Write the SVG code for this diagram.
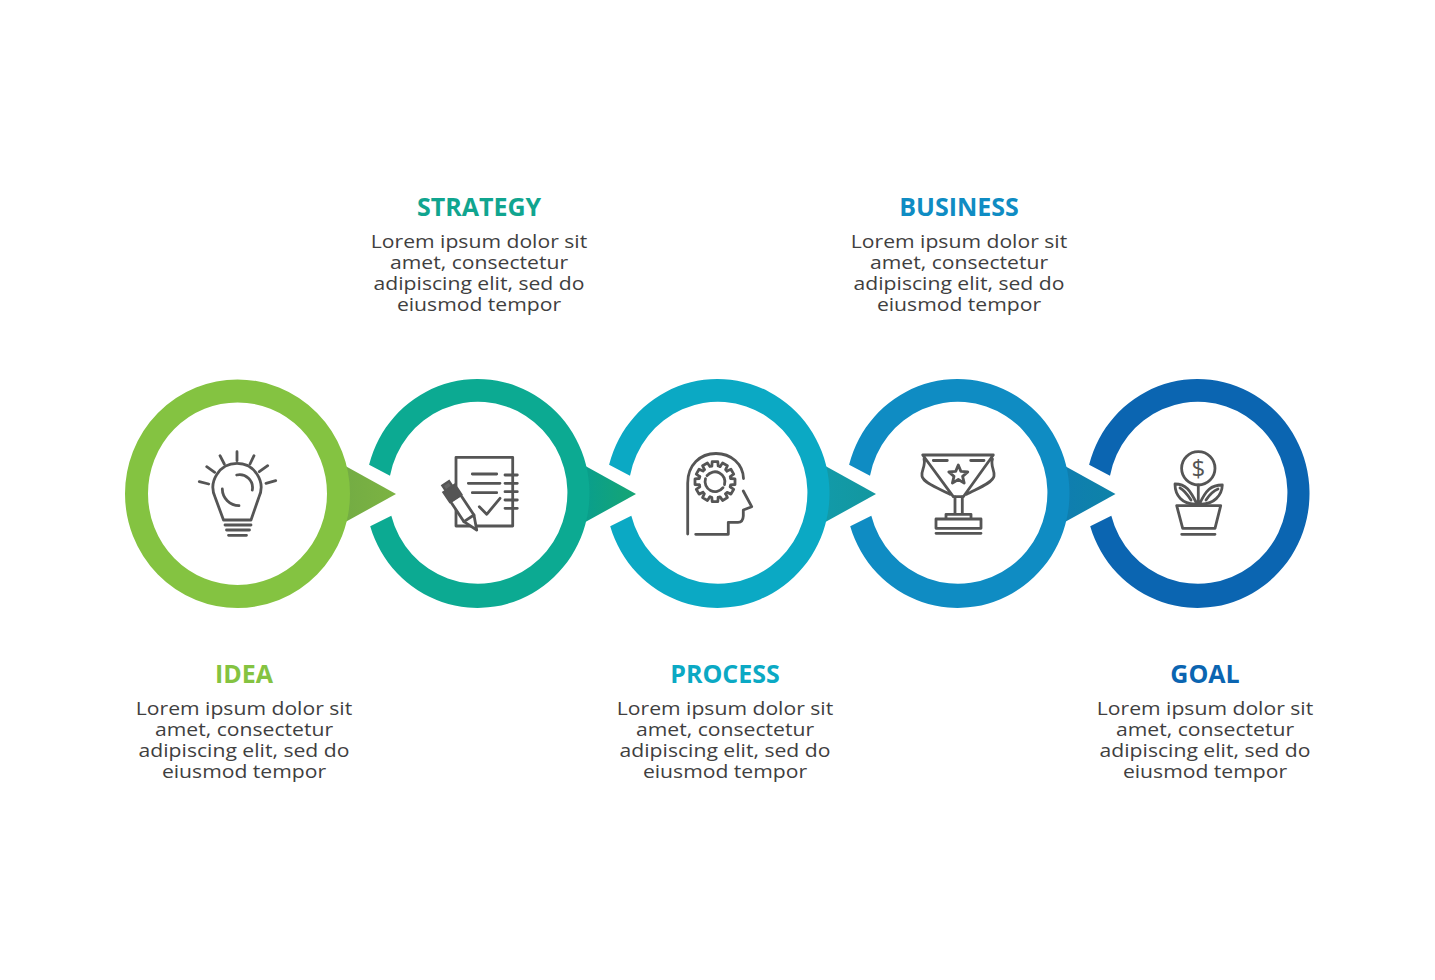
<svg xmlns="http://www.w3.org/2000/svg" xmlns:xlink="http://www.w3.org/1999/xlink" width="1435" height="980" viewBox="0 0 1435 980">
<style>
.t{font-family:"Open Sans","Liberation Sans",sans-serif;font-weight:700;font-size:25px;text-anchor:middle}
.b{font-family:"Open Sans","Liberation Sans",sans-serif;font-size:18px;fill:#3f3f3f;text-anchor:middle}
.i{fill:none;stroke:#555;stroke-width:2.8;stroke-linecap:round;stroke-linejoin:round}
.iw{fill:#fff;stroke:#555;stroke-width:2.8;stroke-linejoin:round}
</style>
<defs>
<path id="ring" d="M-108.4,-29A112,114.5 0 1 1 -107.3,32.5L-86.2,22A89.5,91 0 1 0 -87.5,-18Z"/>
<polygon id="arr" points="-61,-33.8 0,0 -61,33.8"/>
<path id="tooth" class="i" d="M-3.2,-15.7L-2.8,-20H2.8L3.2,-15.7A16,16 0 0 1 5.08,-15.2"/>
<linearGradient id="a1" x1="0" x2="1" y1="0" y2="0"><stop offset="0" stop-color="#72ab44"/><stop offset="1" stop-color="#7cb342"/></linearGradient>
<linearGradient id="a2" x1="0" x2="1" y1="0" y2="0"><stop offset="0.2" stop-color="#0a9f8b"/><stop offset="1" stop-color="#16a574"/></linearGradient>
<linearGradient id="a3" x1="0" x2="1" y1="0" y2="0"><stop offset="0.2" stop-color="#129aa8"/><stop offset="1" stop-color="#13979f"/></linearGradient>
<linearGradient id="a4" x1="0" x2="1" y1="0" y2="0"><stop offset="0.2" stop-color="#0f7eaf"/><stop offset="1" stop-color="#0e83a8"/></linearGradient>
</defs>
<rect width="1435" height="980" fill="#fff"/>
<g id="connectors">
<use href="#arr" x="396" y="494" fill="url(#a1)"/>
<use href="#arr" x="636" y="494" fill="url(#a2)"/>
<use href="#arr" x="876" y="494" fill="url(#a3)"/>
<use href="#arr" x="1115.5" y="494" fill="url(#a4)"/>
</g>
<g id="node-idea">
<ellipse cx="237.5" cy="493.7" rx="101" ry="102.8" fill="none" stroke="#84c341" stroke-width="23"/>
<path class="i" d="M237,451.7V460.7M220,455.7L224.3,464M254,455.7L250,464M206.7,466.7L214.7,472.3M267.7,465.7L259.3,471.7M199.3,481.7L208.7,484M275.7,480.7L266,483.3"/>
<path class="i" d="M223.5,520L215.2,497.5A24,24 0 1 1 258.8,497.5L251,520Z"/>
<path class="i" d="M225,525H251M226.5,530H249.5M228.5,535.3H246.5M236.7,475A13,13 0 0 1 252.3,490M222.3,489A17,17 0 0 0 239,505.7"/>
<text class="t" x="244" y="682.5" fill="#84c341">IDEA</text>
<g transform="translate(244,0) scale(1.175,1)">
<text class="b" x="0" y="715">Lorem ipsum dolor sit</text>
<text class="b" x="0" y="736">amet, consectetur</text>
<text class="b" x="0" y="757">adipiscing elit, sed do</text>
<text class="b" x="0" y="778">eiusmod tempor</text>
</g>
</g>
<g id="node-strategy">
<use href="#ring" x="477.5" y="493.7" fill="#0caa92"/>
<path class="i" d="M456,486V457.3H512.7V526H456V510"/>
<path class="i" d="M505,475H517.3M505,483.3H517.3M505,491.7H517.3M505,500H517.3M505,508.3H517.3M472.3,474H496.7M468.3,483.3H500M472.3,492.7H496.7M479.3,506.7L486.7,514.3L500,498.3"/>
<g transform="translate(476.7,530) rotate(-33.6)">
<path class="iw" d="M0,0L-6,-14V-38H6V-14Z"/>
<path d="M-7,-38H7V-50H-7Z" fill="#555" stroke="#555" stroke-width="2"/>
<path d="M-4,-50H4V-56H-4Z" fill="#666" stroke="#555" stroke-width="2.4"/>
<path class="i" d="M-6,-14L6,-14"/>
</g>
<text class="t" x="479" y="215.5" fill="#10a58f">STRATEGY</text>
<g transform="translate(479,0) scale(1.175,1)">
<text class="b" x="0" y="248">Lorem ipsum dolor sit</text>
<text class="b" x="0" y="269">amet, consectetur</text>
<text class="b" x="0" y="290">adipiscing elit, sed do</text>
<text class="b" x="0" y="311">eiusmod tempor</text>
</g>
</g>
<g id="node-process">
<use href="#ring" x="717.5" y="493.7" fill="#0ba9c4"/>
<path class="i" d="M687.7,534V483C687.7,465 700,453.5 716,453.5C731,453.5 743,464 743.5,478.5M743.3,491L751.7,506.7L743.3,510V516Q743,522.3 738,522.3H728.3V534.3H695.7"/>
<g transform="translate(715,481.7)">
<use href="#tooth"/><use href="#tooth" transform="rotate(30)"/><use href="#tooth" transform="rotate(60)"/><use href="#tooth" transform="rotate(90)"/><use href="#tooth" transform="rotate(120)"/><use href="#tooth" transform="rotate(150)"/><use href="#tooth" transform="rotate(180)"/><use href="#tooth" transform="rotate(210)"/><use href="#tooth" transform="rotate(240)"/><use href="#tooth" transform="rotate(270)"/><use href="#tooth" transform="rotate(300)"/><use href="#tooth" transform="rotate(330)"/>
<path class="i" d="M-8,-6A10,10 0 0 1 9.5,3M8,6A10,10 0 0 1 -9.5,-3"/>
</g>
<text class="t" x="725" y="682.5" fill="#0ba9c4">PROCESS</text>
<g transform="translate(725,0) scale(1.175,1)">
<text class="b" x="0" y="715">Lorem ipsum dolor sit</text>
<text class="b" x="0" y="736">amet, consectetur</text>
<text class="b" x="0" y="757">adipiscing elit, sed do</text>
<text class="b" x="0" y="778">eiusmod tempor</text>
</g>
</g>
<g id="node-business">
<use href="#ring" x="957.5" y="493.7" fill="#0f8cc3"/>
<path class="i" d="M922.7,455H993.3L963.3,496.7H953.3ZM933.3,460.5H947.3M970.7,460.5H984M924,459C926,466 921,470 922,476C923,483 940,489 950,494.3M992.5,459C990,466 995,470 994,476C993,483 976,489 966.5,494.3"/>
<path class="i" d="M955,497V514.3M962.3,497V514.3M946,519V514.3H971V519M936,519H981V528.3H936ZM936,533.3H981"/>
<path class="i" transform="translate(958.3,475)" d="M0,-10L2.6,-3.6L9.5,-3.1L4.3,1.4L5.9,8.1L0,4.5L-5.9,8.1L-4.3,1.4L-9.5,-3.1L-2.6,-3.6Z"/>
<text class="t" x="959" y="215.5" fill="#0f8cc3">BUSINESS</text>
<g transform="translate(959,0) scale(1.175,1)">
<text class="b" x="0" y="248">Lorem ipsum dolor sit</text>
<text class="b" x="0" y="269">amet, consectetur</text>
<text class="b" x="0" y="290">adipiscing elit, sed do</text>
<text class="b" x="0" y="311">eiusmod tempor</text>
</g>
</g>
<g id="node-goal">
<use href="#ring" x="1197.5" y="493.7" fill="#0b65b1"/>
<circle class="i" cx="1198.3" cy="468.3" r="16.7"/>
<text x="1198.3" y="477" font-family="'Open Sans','Liberation Sans',sans-serif" font-size="24" fill="#555" text-anchor="middle">$</text>
<path class="i" d="M1198.3,485V505M1197,504C1190,490 1186,484 1175,484C1175,495 1182,505 1197,504ZM1199.5,504C1206,490 1211,485 1222.3,485C1222,495 1214,505 1199.5,504ZM1191,500C1187,494 1184,490 1180,488M1206,500C1210,494 1213,491 1218,489"/>
<path class="i" d="M1176.7,505.7H1220.7L1215,528.3H1182.7ZM1181.7,534.3H1215"/>
<text class="t" x="1205" y="682.5" fill="#0b65b1">GOAL</text>
<g transform="translate(1205,0) scale(1.175,1)">
<text class="b" x="0" y="715">Lorem ipsum dolor sit</text>
<text class="b" x="0" y="736">amet, consectetur</text>
<text class="b" x="0" y="757">adipiscing elit, sed do</text>
<text class="b" x="0" y="778">eiusmod tempor</text>
</g>
</g>
</svg>
